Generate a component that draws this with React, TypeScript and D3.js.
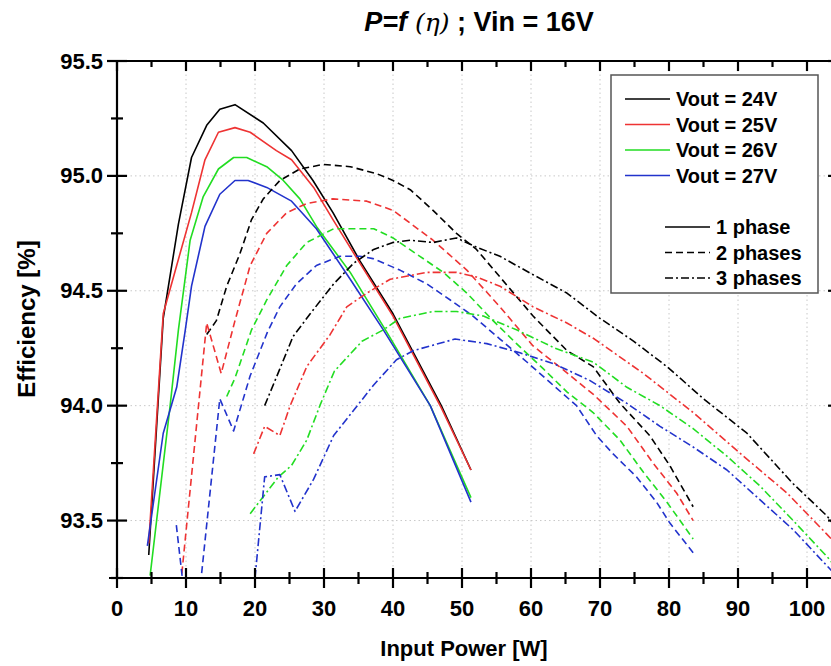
import React from "react";
import * as d3 from "d3";

// ---------- data (Input power [W], Efficiency [%]) ----------
const X_TICKS = [0, 10, 20, 30, 40, 50, 60, 70, 80, 90, 100];
const Y_TICKS = [93.5, 94.0, 94.5, 95.0, 95.5];
const VOUT_LABELS = ["Vout = 24V", "Vout = 25V", "Vout = 26V", "Vout = 27V"];
const PHASE_LABELS = ["1 phase", "2 phases", "3 phases"];
const COLORS = ["#000000", "#ee3333", "#22dd22", "#2233cc"];

// 1 phase (solid)
const P1_24V = [[4.6,93.35],[6.7,94.38],[8.9,94.79],[10.8,95.08],[13.0,95.22],[14.9,95.29],[17.1,95.31],[21.2,95.23],[25.3,95.11],[28.4,94.98],[31.3,94.84],[35.2,94.63],[40.0,94.40],[47.0,94.00],[51.3,93.72]];
const P1_25V = [[4.6,93.40],[6.7,94.40],[8.65,94.61],[10.8,94.84],[12.75,95.07],[14.7,95.19],[17.1,95.21],[19.3,95.19],[23.1,95.11],[25.3,95.07],[28.5,94.95],[31.3,94.81],[35.2,94.62],[40.0,94.39],[47.0,93.99],[51.3,93.72]];
const P1_26V = [[4.8,93.26],[7.7,94.0],[8.9,94.33],[10.6,94.72],[12.5,94.91],[14.7,95.03],[16.9,95.08],[18.8,95.08],[21.7,95.04],[24.1,94.98],[26.5,94.90],[28.9,94.78],[33.8,94.58],[39.1,94.32],[45.4,94.0],[51.3,93.60]];
const P1_27V = [[4.4,93.39],[6.7,93.88],[8.65,94.08],[9.9,94.33],[10.8,94.52],[12.75,94.78],[14.9,94.92],[17.1,94.98],[19.0,94.98],[21.7,94.95],[25.3,94.89],[28.9,94.77],[33.8,94.55],[38.6,94.33],[45.4,94.0],[51.3,93.58]];

// 2 phases (dashed)
const P2_24V = [[13.0,94.31],[14.4,94.37],[15.9,94.52],[17.8,94.66],[19.5,94.81],[21.2,94.90],[23.6,94.98],[26.5,95.03],[29.9,95.05],[33.8,95.04],[37.6,95.01],[40.0,94.98],[42.5,94.94],[45.8,94.85],[49.2,94.75],[52.1,94.68],[55.5,94.56],[60.3,94.39],[65.2,94.24],[69.0,94.17],[72.9,94.01],[77.2,93.87],[80.1,93.74],[83.5,93.56]];
const P2_25V = [[9.4,93.27],[13.0,94.36],[15.1,94.14],[17.1,94.37],[19.3,94.61],[21.7,94.75],[24.6,94.84],[27.5,94.88],[31.3,94.90],[36.2,94.89],[40.0,94.85],[45.8,94.72],[50.7,94.59],[55.5,94.43],[60.3,94.26],[64.5,94.16],[69.0,94.05],[73.9,93.91],[77.7,93.75],[81.1,93.62],[83.5,93.50]];
const P2_26V = [[15.9,94.04],[17.1,94.12],[19.5,94.33],[21.7,94.46],[24.6,94.61],[27.5,94.71],[31.4,94.77],[33.8,94.77],[37.2,94.77],[40.0,94.73],[43.9,94.65],[47.3,94.58],[50.7,94.49],[54.5,94.37],[57.9,94.27],[61.8,94.16],[65.2,94.06],[69.0,93.97],[72.9,93.85],[76.3,93.71],[79.7,93.58],[83.5,93.42]];
const P2_27V = [[8.6,93.48],[10.8,92.9],[12.3,93.28],[14.9,94.03],[16.9,93.89],[19.3,94.13],[21.8,94.32],[23.6,94.43],[26.0,94.53],[28.9,94.61],[32.3,94.65],[35.2,94.65],[37.1,94.64],[41.0,94.59],[44.9,94.53],[48.3,94.46],[51.6,94.39],[55.5,94.29],[59.4,94.19],[62.8,94.10],[66.6,94.00],[69.5,93.87],[71.9,93.79],[75.3,93.69],[78.2,93.58],[80.1,93.49],[83.5,93.36]];

// 3 phases (dash-dot)
const P3_24V = [[21.4,94.00],[23.6,94.16],[25.5,94.30],[28.0,94.40],[31.4,94.53],[34.3,94.62],[37.2,94.68],[40.0,94.71],[42.5,94.72],[45.8,94.71],[49.2,94.73],[52.1,94.69],[55.5,94.65],[60.3,94.57],[65.2,94.49],[70.0,94.38],[74.9,94.28],[79.7,94.17],[85.0,94.03],[91.3,93.88],[98.0,93.66],[102.9,93.52],[106.0,93.40]];
const P3_25V = [[19.8,93.79],[21.4,93.91],[23.6,93.87],[25.1,94.0],[27.5,94.17],[30.9,94.31],[33.3,94.43],[36.2,94.49],[39.6,94.55],[44.9,94.58],[49.2,94.58],[52.1,94.56],[55.5,94.52],[60.3,94.43],[65.2,94.36],[69.2,94.29],[76.3,94.14],[83.5,93.97],[90.8,93.78],[97.1,93.62],[102.9,93.44],[106.0,93.34]];
const P3_26V = [[19.3,93.53],[23.4,93.69],[25.3,93.74],[27.5,93.85],[29.4,94.0],[31.5,94.15],[35.5,94.28],[38.6,94.33],[41.0,94.38],[45.8,94.41],[49.2,94.41],[53.1,94.39],[57.9,94.33],[63.5,94.25],[69.0,94.19],[73.9,94.08],[78.7,94.00],[83.5,93.90],[88.4,93.78],[93.2,93.65],[98.0,93.50],[103.3,93.33],[106.0,93.22]];
const P3_27V = [[20.0,93.25],[21.4,93.69],[23.6,93.70],[25.8,93.54],[28.5,93.68],[31.4,93.87],[34.3,93.98],[37.2,94.09],[40.5,94.20],[43.0,94.24],[49.0,94.29],[53.6,94.27],[58.4,94.23],[63.5,94.18],[68.5,94.11],[73.9,94.01],[78.7,93.91],[83.5,93.82],[88.4,93.72],[93.2,93.59],[98.0,93.46],[103.3,93.29],[106.0,93.20]];

const SERIES = [
  { data: P1_24V, color: 0, phase: 0 }, { data: P1_25V, color: 1, phase: 0 },
  { data: P1_26V, color: 2, phase: 0 }, { data: P1_27V, color: 3, phase: 0 },
  { data: P2_24V, color: 0, phase: 1 }, { data: P2_25V, color: 1, phase: 1 },
  { data: P2_26V, color: 2, phase: 1 }, { data: P2_27V, color: 3, phase: 1 },
  { data: P3_24V, color: 0, phase: 2 }, { data: P3_25V, color: 1, phase: 2 },
  { data: P3_26V, color: 2, phase: 2 }, { data: P3_27V, color: 3, phase: 2 },
];

const DASHES = [null, "7,4", "8,3,2,3"];

export default function App() {
  const W = 831, H = 666;
  const x = d3.scaleLinear().domain([0, 100]).range([117, 807]);
  const y = d3.scaleLinear().domain([93.25, 95.5]).range([578, 61]);
  const xMax = 104.5;
  const left = x(0), right = x(xMax), top = y(95.5), bottom = y(93.25);
  const line = d3.line<number[]>().x((d) => x(d[0])).y((d) => y(d[1]));

  const xMinor = d3.range(5, 105, 10);
  const yMinor = [93.25, 93.75, 94.25, 94.75, 95.25];
  const font = "'Liberation Sans', Arial, sans-serif";

  const lx = 611, ly = 75, lw = 207, lh = 218;

  return (
    <svg width={W} height={H} style={{ position: "absolute", left: 0, top: 0, background: "#fff" }} fontFamily={font}>
      <defs>
        <clipPath id="plot">
          <rect x={left} y={top} width={right - left} height={bottom - top} />
        </clipPath>
      </defs>
      <rect x={0} y={0} width={W} height={H} fill="#fff" />
      {/* grid */}
      {X_TICKS.filter((t) => t > 0).map((t) => (
        <line key={"gx" + t} x1={x(t)} x2={x(t)} y1={top} y2={bottom} stroke="#c8c8c8" strokeWidth={1} strokeDasharray="1.5,3" />
      ))}
      {Y_TICKS.filter((t) => t < 95.5).map((t) => (
        <line key={"gy" + t} x1={left} x2={right} y1={y(t)} y2={y(t)} stroke="#c8c8c8" strokeWidth={1} strokeDasharray="1.5,3" />
      ))}

      {/* series */}
      <g clipPath="url(#plot)">
        {SERIES.map((s, i) => (
          <path key={i} d={line(s.data) || ""} fill="none" stroke={COLORS[s.color]} strokeWidth={1.6}
            strokeDasharray={DASHES[s.phase] || undefined} strokeLinejoin="round" />
        ))}
      </g>

      {/* axes frame */}
      <g stroke="#000" strokeWidth={2.2}>
        <line x1={left} x2={left} y1={top} y2={bottom} />
        <line x1={left - 8} x2={right} y1={bottom} y2={bottom} />
        <line x1={left - 8} x2={right} y1={top} y2={top} />
        <line x1={right} x2={right} y1={top} y2={bottom} />
        {X_TICKS.map((t) => (
          <g key={"xt" + t}>
            <line x1={x(t)} x2={x(t)} y1={bottom - 10} y2={bottom + 10} />
            <line x1={x(t)} x2={x(t)} y1={top} y2={top + 10} />
          </g>
        ))}
        {xMinor.map((t) => (
          <g key={"xm" + t}>
            <line x1={x(t)} x2={x(t)} y1={bottom - 6} y2={bottom + 6} />
            <line x1={x(t)} x2={x(t)} y1={top} y2={top + 6} />
          </g>
        ))}
        {Y_TICKS.map((t) => (
          <g key={"yt" + t}>
            <line x1={left - 10} x2={left + 10} y1={y(t)} y2={y(t)} />
            <line x1={right - 10} x2={right} y1={y(t)} y2={y(t)} />
          </g>
        ))}
        {yMinor.map((t) => (
          <g key={"ym" + t}>
            <line x1={left - 6} x2={left + 6} y1={y(t)} y2={y(t)} />
            <line x1={right - 6} x2={right} y1={y(t)} y2={y(t)} />
          </g>
        ))}
      </g>

      {/* tick labels */}
      {X_TICKS.map((t) => (
        <text key={"xl" + t} x={x(t)} y={616} textAnchor="middle" fontSize={22} fontWeight="bold">{t}</text>
      ))}
      {Y_TICKS.map((t) => (
        <text key={"yl" + t} x={103} y={y(t) + 7.5} textAnchor="end" fontSize={22} fontWeight="bold">{t.toFixed(1)}</text>
      ))}

      {/* axis titles */}
      <text x={464} y={656} textAnchor="middle" fontSize={22} fontWeight="bold">Input Power [W]</text>
      <text transform={`translate(35,319) rotate(-90)`} textAnchor="middle" fontSize={24} fontWeight="bold">Efficiency [%]</text>

      {/* title */}
      <text x={479} y={31} textAnchor="middle" fontSize={27} fontWeight="bold">
        <tspan fontStyle="italic">P=f</tspan>
        <tspan fontFamily="'DejaVu Serif', serif" fontStyle="italic" fontWeight="normal" fontSize={25}> (η)</tspan>
        <tspan> ; Vin = 16V</tspan>
      </text>

      {/* legend */}
      <rect x={lx} y={ly} width={lw} height={lh} fill="#fff" stroke="#555" strokeWidth={1.5} />
      {VOUT_LABELS.map((lab, i) => (
        <g key={lab}>
          <line x1={625} x2={670} y1={99 + i * 25.5} y2={99 + i * 25.5} stroke={COLORS[i]} strokeWidth={1.6} />
          <text x={676} y={99 + i * 25.5 + 7} fontSize={20} fontWeight="bold">{lab}</text>
        </g>
      ))}
      {PHASE_LABELS.map((lab, i) => (
        <g key={lab}>
          <line x1={665} x2={710} y1={227 + i * 25.5} y2={227 + i * 25.5} stroke="#000" strokeWidth={1.4}
            strokeDasharray={DASHES[i] || undefined} />
          <text x={716} y={227 + i * 25.5 + 7} fontSize={20} fontWeight="bold">{lab}</text>
        </g>
      ))}
    </svg>
  );
}
